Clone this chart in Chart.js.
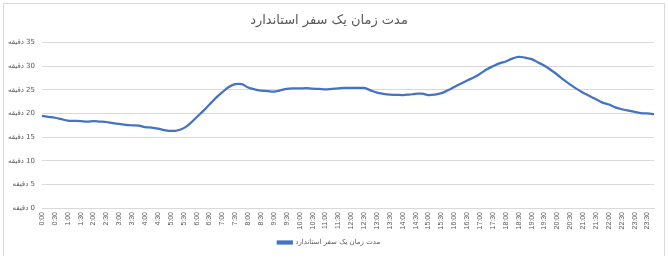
<!DOCTYPE html>
<html><head><meta charset="utf-8">
<script src="https://cdn.jsdelivr.net/npm/chart.js@4/dist/chart.umd.min.js"></script>
<style>
html,body{margin:0;padding:0;background:#fff;}
#wrap{position:absolute;left:3px;top:3px;width:660px;height:252px;border:1px solid #d9d9d9;border-bottom:none;}
canvas{display:block;}
</style></head>
<body><div id="wrap"><canvas id="c" width="660" height="252"></canvas></div>
<script>
const titleText = 'مدت زمان یک سفر استاندارد';
const seriesName = 'مدت زمان یک سفر استاندارد';
const unitWord = 'دقیقه';
const timeLabels = [];
for (let h = 0; h < 24; h++) { for (const m of ['00','15','30','45']) timeLabels.push(h + ':' + m); }
const durations = [
19.5,19.3,19.1,18.8,18.5,18.45,18.4,18.3,18.4,18.3,18.2,17.95,
17.8,17.6,17.5,17.45,17.1,17.0,16.8,16.5,16.3,16.4,16.9,17.9,
19.2,20.5,21.9,23.3,24.5,25.6,26.2,26.2,25.5,25.1,24.85,24.75,
24.65,24.9,25.2,25.3,25.3,25.35,25.25,25.2,25.1,25.2,25.3,25.4,
25.4,25.4,25.4,24.9,24.4,24.15,24.0,23.95,23.9,24.0,24.15,24.2,
23.9,24.0,24.3,24.9,25.6,26.3,27.0,27.6,28.4,29.3,30.0,30.6,
31.0,31.6,32.0,31.8,31.5,30.8,30.1,29.2,28.2,27.1,26.1,25.2,
24.4,23.7,23.0,22.3,21.9,21.3,20.9,20.6,20.35,20.1,20.0,19.85
];
const yTicks = [0,5,10,15,20,25,30,35];

new Chart(document.getElementById('c'), {
  type: 'line',
  data: { labels: timeLabels, datasets: [{
    label: seriesName, data: durations, borderColor: '#4472C4', backgroundColor: '#4472C4',
    borderWidth: 2.25, pointRadius: 0, tension: 0.4, fill: false
  }]},
  options: {
    responsive: false, animation: false, devicePixelRatio: 1,
    layout: { padding: { left: 0, right: 10, top: 0, bottom: 0 } },
    plugins: {
      title: { display: true, text: titleText, color: '#595959',
        font: { family: 'DejaVu Sans', size: 13, weight: 'normal' }, padding: { top: 9, bottom: 14 } },
      legend: { position: 'bottom', labels: { color: '#595959', boxWidth: 14, boxHeight: 2, padding: 6,
        font: { family: 'DejaVu Sans', size: 7 } } },
      tooltip: { enabled: false }
    },
    scales: {
      x: {
        offset: false,
        afterFit: function(s) { s.height = 25; },
        grid: { display: false, drawTicks: false },
        border: { display: true, color: '#d9d9d9' },
        ticks: { autoSkip: false, maxRotation: 90, minRotation: 90, color: '#595959', padding: 4,
          font: { family: 'Liberation Sans', size: 7 },
          callback: function(v, i) { return i % 2 === 0 ? timeLabels[i] : null; } }
      },
      y: {
        min: 0, max: 35,
        afterFit: function(s) { s.width = 38; },
        afterBuildTicks: function(s) { s.ticks = yTicks.map(v => ({ value: v })); },
        grid: { color: '#d9d9d9', drawTicks: false },
        border: { display: false },
        ticks: { color: '#595959', padding: 7, font: { family: 'DejaVu Sans', size: 7 },
          callback: function(v) { return unitWord + ' \u200E' + v; } }
      }
    }
  }
});
</script></body></html>
